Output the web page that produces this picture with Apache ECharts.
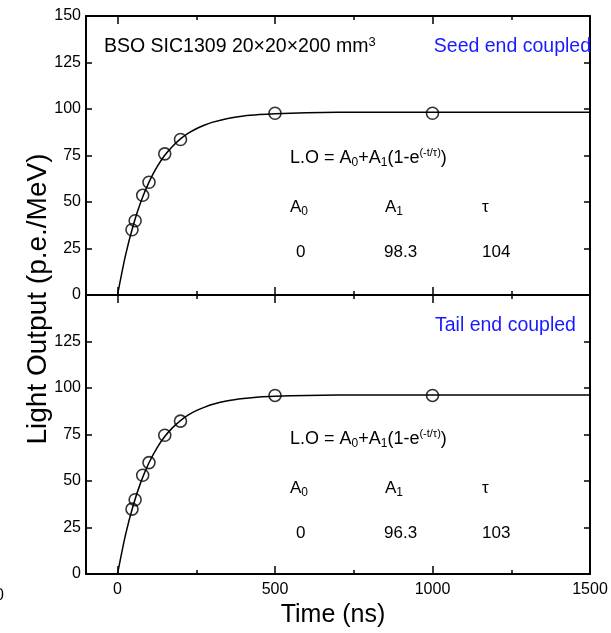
<!DOCTYPE html>
<html><head><meta charset="utf-8">
<script src="https://cdn.jsdelivr.net/npm/echarts@6/dist/echarts.min.js"></script>
<style>html,body{margin:0;padding:0;background:#fff}#c{width:611px;height:633px}</style>
</head><body><div id="c"></div>
<script>
const FONT = "'Liberation Sans', Arial, sans-serif";
// measured points (Time ns, Light output p.e./MeV)
const pointTimes = [46, 56, 80, 100, 150, 200, 500, 1000];
const seedPoints = [35.1, 39.9, 53.6, 60.6, 75.9, 83.6, 97.7, 97.7];
const tailPoints = [34.9, 39.9, 53.1, 59.9, 74.6, 82.2, 96.0, 96.0];
// fitted curves
const curveTimes = [0, 25, 50, 75, 100, 125, 150, 175, 200, 225, 250, 275, 300, 350, 400, 450, 500, 600, 700, 800, 1000, 1500];
const seedCurve = [0, 21.0, 37.5, 50.5, 60.7, 68.7, 75.1, 80.0, 83.9, 87.0, 89.4, 91.3, 92.8, 94.9, 96.2, 97.0, 97.5, 98.0, 98.2, 98.3, 98.3, 98.3];
const tailCurve = [0, 20.8, 37.0, 49.8, 59.8, 67.7, 73.9, 78.7, 82.5, 85.5, 87.8, 89.6, 91.1, 93.1, 94.3, 95.1, 95.5, 96.0, 96.2, 96.3, 96.3, 96.3];
// ticks
const xMajorTicks = [0, 500, 1000, 1500];
const xMinorTicks = [250, 750, 1250];
const yTickLabels = [0, 25, 50, 75, 100, 125, 150];
// fit parameter table
const fitHeaders = ['A{s|0}', 'A{s|1}', 'τ'];
const seedParams = ['0', '98.3', '104'];
const tailParams = ['0', '96.3', '103'];

const zip = (a, b) => a.map((v, i) => [v, b[i]]);
const BLACK = '#000';

function xAxes(gridIndex, showLabels) {
  const base = (pos, ticks, len, line, labels) => ({
    type: 'value', gridIndex, min: -100, max: 1500, position: pos,
    axisLine: { show: line, onZero: false, lineStyle: { color: BLACK, width: 2 } },
    axisTick: { show: true, inside: true, length: len, customValues: ticks, lineStyle: { color: BLACK, width: 1.5 } },
    axisLabel: { show: labels, customValues: ticks, color: BLACK, fontSize: 16, fontFamily: FONT, margin: 8, formatter: v => String(v) },
    splitLine: { show: false }
  });
  return [
    base('bottom', xMajorTicks, 8, true, showLabels),
    base('bottom', xMinorTicks, 4, false, false),
    base('top', xMajorTicks, 8, true, false),
    base('top', xMinorTicks, 4, false, false)
  ];
}
function yAxes(gridIndex, hideTop) {
  const base = (pos, labels) => ({
    type: 'value', gridIndex, min: 0, max: 150, interval: 25, position: pos,
    axisLine: { show: true, onZero: false, lineStyle: { color: BLACK, width: 2 } },
    axisTick: { show: true, inside: true, length: 6, lineStyle: { color: BLACK, width: 1.5 } },
    axisLabel: { show: labels, color: BLACK, fontSize: 16, fontFamily: FONT, margin: 5,
      formatter: v => (yTickLabels.includes(v) && !(hideTop && v === 150)) ? String(v) : '' },
    splitLine: { show: false }
  });
  return [base('left', true), base('right', false)];
}

const rich = {
  s: { fontSize: 12, lineHeight: 10, verticalAlign: 'bottom', fontFamily: FONT, fill: BLACK },
  p: { fontSize: 11, lineHeight: 10, verticalAlign: 'top', fontFamily: FONT, fill: BLACK },
  u: { fontSize: 13, lineHeight: 10, verticalAlign: 'top', fontFamily: FONT, fill: BLACK }
};
function txt(x, y, text, size, styleExtra, elExtra) {
  return Object.assign({
    type: 'text', x, y, z: 100,
    style: Object.assign({ text, fontSize: size, fontFamily: FONT, fill: BLACK, align: 'left', verticalAlign: 'middle', rich, lineHeight: 22 }, styleExtra || {})
  }, elExtra || {});
}
function panelTexts(dy, params) {
  const cols = [290, 385, 482];
  const out = [txt(290, 158 + dy, 'L.O = A{s|0}+A{s|1}(1-e{p|(-t/τ)})', 18)];
  fitHeaders.forEach((h, i) => out.push(txt(cols[i], 207 + dy, h, 17)));
  const vcols = [296, 384, 482];
  params.forEach((p, i) => out.push(txt(vcols[i], 252 + dy, p, 17)));
  return out;
}

const scatterStyle = { color: 'rgba(0,0,0,0)', borderColor: BLACK, borderWidth: 1.6 };
const lineStyle = { color: BLACK, width: 1.5 };
const option = {
  animation: false,
  backgroundColor: '#fff',
  grid: [
    { left: 86, right: 21, top: 16, height: 279 },
    { left: 86, right: 21, top: 295, height: 279 }
  ],
  xAxis: [...xAxes(0, false), ...xAxes(1, true)],
  yAxis: [...yAxes(0, false), ...yAxes(1, true)],
  series: [
    { type: 'line', xAxisIndex: 0, yAxisIndex: 0, data: zip(curveTimes, seedCurve), showSymbol: false, smooth: 0.25, lineStyle, z: 2 },
    { type: 'scatter', xAxisIndex: 0, yAxisIndex: 0, data: zip(pointTimes, seedPoints), symbol: 'circle', symbolSize: 12, itemStyle: scatterStyle, z: 3 },
    { type: 'line', xAxisIndex: 4, yAxisIndex: 2, data: zip(curveTimes, tailCurve), showSymbol: false, smooth: 0.25, lineStyle, z: 2 },
    { type: 'scatter', xAxisIndex: 4, yAxisIndex: 2, data: zip(pointTimes, tailPoints), symbol: 'circle', symbolSize: 12, itemStyle: scatterStyle, z: 3 }
  ],
  graphic: [
    txt(104, 47, 'BSO SIC1309 20×20×200 mm{u|3}', 19.5),
    txt(591, 47, 'Seed end coupled', 19.5, { fill: '#1a1aff', align: 'right' }),
    txt(435, 326, 'Tail end coupled', 19.5, { fill: '#1a1aff' }),
    ...panelTexts(0, seedParams),
    ...panelTexts(281, tailParams),
    txt(333, 615, 'Time (ns)', 25, { align: 'center' }),
    txt(38, 299, 'Light Output (p.e./MeV)', 28, { align: 'center' }, { rotation: Math.PI / 2 }),
    txt(-5, 596, '0', 16)
  ]
};
echarts.init(document.getElementById('c'), null, { renderer: 'canvas' }).setOption(option);
</script>
</body></html>
